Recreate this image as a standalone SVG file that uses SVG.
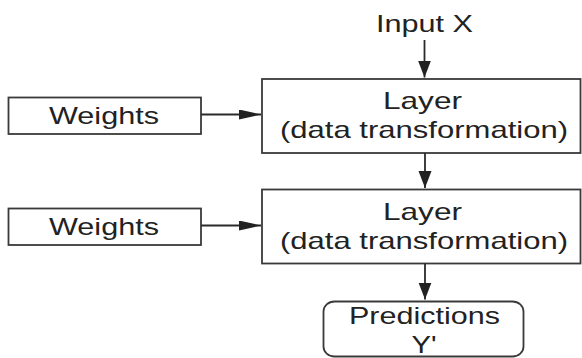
<svg xmlns="http://www.w3.org/2000/svg" width="582" height="358" viewBox="0 0 582 358">
  <style>
    .box { fill: #ffffff; stroke: #3a3a3a; stroke-width: 1.8; }
    .lbl { font-family: "Liberation Sans", Arial, sans-serif; font-size: 24px; fill: #222222; text-anchor: middle; }
    .wire { fill: none; stroke: #2a2a2a; stroke-width: 1.8; }
  </style>
  <defs>
    <marker id="head-v" markerUnits="userSpaceOnUse" markerWidth="18" markerHeight="14" refX="17" refY="6.5" orient="auto">
      <path d="M0,0 L17,6.5 L0,13 Z" fill="#222222"/>
    </marker>
    <marker id="head-h" markerUnits="userSpaceOnUse" markerWidth="23" markerHeight="11" refX="22" refY="5" orient="auto">
      <path d="M0,0 L22,5 L0,10 Z" fill="#222222"/>
    </marker>
  </defs>
  <rect width="582" height="358" fill="#ffffff"/>

  <g id="input-x">
    <text class="lbl" x="424.5" y="31.5" textLength="97" lengthAdjust="spacingAndGlyphs">Input X</text>
  </g>

  <g id="weights-1">
    <rect class="box" x="8.5" y="97.5" width="192.5" height="36.5"/>
    <text class="lbl" x="104" y="124" textLength="110" lengthAdjust="spacingAndGlyphs">Weights</text>
  </g>

  <g id="weights-2">
    <rect class="box" x="8.5" y="208.5" width="192.5" height="36.5"/>
    <text class="lbl" x="104" y="235" textLength="110" lengthAdjust="spacingAndGlyphs">Weights</text>
  </g>

  <g id="layer-1">
    <rect class="box" x="262" y="79" width="318.5" height="74"/>
    <text class="lbl" x="422.5" y="108.5" textLength="79" lengthAdjust="spacingAndGlyphs">Layer</text>
    <text class="lbl" x="424" y="138" textLength="288" lengthAdjust="spacingAndGlyphs">(data transformation)</text>
  </g>

  <g id="layer-2">
    <rect class="box" x="262" y="189.5" width="318.5" height="74"/>
    <text class="lbl" x="422.5" y="219.5" textLength="79" lengthAdjust="spacingAndGlyphs">Layer</text>
    <text class="lbl" x="424" y="249" textLength="288" lengthAdjust="spacingAndGlyphs">(data transformation)</text>
  </g>

  <g id="predictions">
    <rect class="box" x="323.5" y="301.5" width="200" height="55" rx="11" ry="10"/>
    <text class="lbl" x="424.5" y="323.5" textLength="151" lengthAdjust="spacingAndGlyphs">Predictions</text>
    <text class="lbl" x="424" y="353" textLength="25" lengthAdjust="spacingAndGlyphs">Y'</text>
  </g>

  <g id="connectors">
    <line class="wire" x1="424.5" y1="40" x2="424.5" y2="77.5" marker-end="url(#head-v)"/>
    <line class="wire" x1="425" y1="153" x2="425" y2="188" marker-end="url(#head-v)"/>
    <line class="wire" x1="425" y1="263.5" x2="425" y2="299.5" marker-end="url(#head-v)"/>
    <line class="wire" x1="201" y1="114.5" x2="261" y2="114.5" marker-end="url(#head-h)"/>
    <line class="wire" x1="201" y1="225.5" x2="261" y2="225.5" marker-end="url(#head-h)"/>
  </g>
</svg>
